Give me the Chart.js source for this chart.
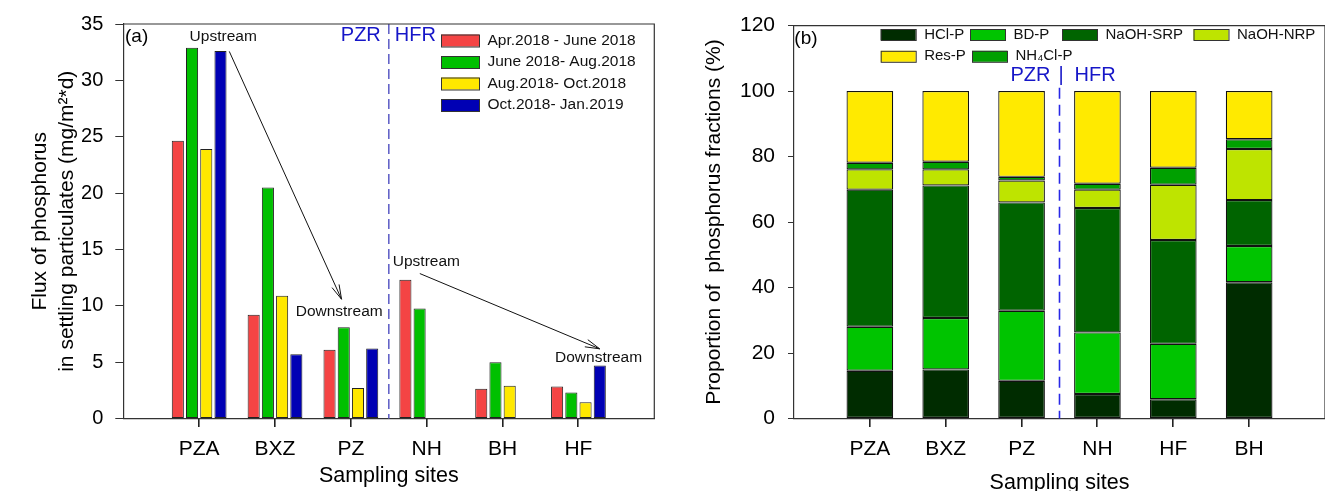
<!DOCTYPE html>
<html>
<head>
<meta charset="utf-8">
<script src="https://cdn.jsdelivr.net/npm/chart.js@4.4.1/dist/chart.umd.min.js"></script>
<style>
  body { margin: 0; background: #fff; }
  #boxA { position: absolute; left: 0; top: 0; width: 660px; height: 491px; }
  #boxB { position: absolute; left: 660px; top: 0; width: 665px; height: 491px; }
</style>
</head>
<body>
<div id="boxA"><canvas id="fluxChart" width="660" height="491"></canvas></div>
<div id="boxB"><canvas id="fracChart" width="665" height="491"></canvas></div>
<script>
// (a) flux of phosphorus in settling particulates, mg/m2*d
var sitesA = ['PZA', 'BXZ', 'PZ', 'NH', 'BH', 'HF'];
var periods = ['Apr.2018 - June 2018', 'June 2018- Aug.2018', 'Aug.2018- Oct.2018', 'Oct.2018- Jan.2019'];
var aprJun = [24.65, 9.2, 6.1, 12.3, 2.65, 2.85];
var junAug = [32.9, 20.5, 8.1, 9.75, 5.0, 2.3];
var augOct = [23.9, 10.9, 2.7, null, 2.9, 1.45];
var octJan = [32.6, 5.7, 6.2, null, null, 4.7];
var fluxTicks = [0, 5, 10, 15, 20, 25, 30, 35];

// (b) proportion of phosphorus fractions, %
var sitesB = ['PZA', 'BXZ', 'PZ', 'NH', 'HF', 'BH'];
var fractions = ['HCl-P', 'BD-P', 'NaOH-SRP', 'NaOH-NRP', 'NH\u2084Cl-P', 'Res-P'];
var hclP = [14.6, 15.0, 11.5, 7.5, 5.9, 41.6];
var bdP = [13.4, 15.7, 21.4, 18.8, 16.9, 11.1];
var naohSRP = [41.9, 40.5, 33.1, 38.0, 31.7, 14.0];
var naohNRP = [6.2, 4.9, 6.7, 5.6, 16.9, 15.6];
var nh4clP = [2.0, 2.3, 1.1, 1.8, 5.2, 3.0];
var resP = [21.9, 21.6, 26.2, 28.3, 23.4, 14.7];
var fracTicks = [0, 20, 40, 60, 80, 100, 120];

Chart.defaults.font.family = '"Liberation Sans", Arial, sans-serif';
Chart.defaults.color = '#000';

// empty slot at both ends so the sites sit one step in from the frame
function pad(arr) { return [null].concat(arr, [null]); }
var FONT = '"Liberation Sans", Arial, sans-serif';

function siteAxis(titlePad) {
  return {
    offset: false,
    // keep only the real sites as ticks, drop the two empty end slots
    afterBuildTicks: function (s) {
      var last = s.getLabels().length - 1;
      s.ticks = s.ticks.filter(function (t) { return t.value > 0 && t.value < last; });
    },
    grid: { display: false, tickLength: 7 },
    border: { color: '#333', width: 1.2 },
    ticks: { autoSkip: false, maxRotation: 0, padding: 11, font: { size: 21 } },
    title: { display: true, text: 'Sampling sites', font: { size: 21.5 }, padding: { top: 0, bottom: titlePad } },
    afterFit: function (s) { s.height = 72.5; }
  };
}

function valueAxis(ticks, width, tickLen, tickPad, title, titlePad, size) {
  return {
    min: ticks[0], max: ticks[ticks.length - 1],
    afterBuildTicks: function (s) { s.ticks = ticks.map(function (v) { return { value: v }; }); },
    grid: { drawOnChartArea: false, tickLength: tickLen, color: '#333' },
    border: { color: '#333', width: 1.2 },
    ticks: { padding: tickPad, font: { size: size } },
    title: { display: true, text: title, font: { size: 21, lineHeight: 1.28 }, padding: { top: titlePad, bottom: 0 } },
    afterFit: function (s) { s.width = width; }
  };
}

// top and right edges of the frame, site tick marks and the panel tag
function framePlugin(tag, tagX, tagY) {
  return {
    id: 'frame',
    afterDraw: function (chart) {
      var a = chart.chartArea, ctx = chart.ctx, sx = chart.scales.x;
      ctx.save();
      ctx.strokeStyle = '#333';
      ctx.lineWidth = 1.2;
      ctx.beginPath();
      ctx.moveTo(a.left, a.top);
      ctx.lineTo(a.right, a.top);
      ctx.lineTo(a.right, a.bottom);
      ctx.stroke();
      ctx.restore();
      ctx.save();
      ctx.fillStyle = '#222';
      for (var i = 0; i < sx.ticks.length; i++) {
        var px = Math.round(sx.getPixelForTick(i));
        ctx.fillRect(px - 1, Math.round(a.bottom), 1.6, 8);
      }
      ctx.fillStyle = '#000';
      ctx.font = '19px ' + FONT;
      ctx.textBaseline = 'middle';
      ctx.fillText(tag, tagX, tagY);
      ctx.restore();
    }
  };
}

// PZR | HFR river divider
function dividerPlugin(cfg) {
  return {
    id: 'divider',
    afterDatasetsDraw: function (chart) {
      var ctx = chart.ctx, a = chart.chartArea;
      var x = chart.scales.x.getPixelForValue(cfg.at);
      var top = cfg.top == null ? a.top : chart.scales.y.getPixelForValue(cfg.top);
      ctx.save();
      ctx.strokeStyle = cfg.color;
      ctx.lineWidth = 1.6;
      ctx.setLineDash(cfg.dash);
      ctx.beginPath();
      ctx.moveTo(x, top);
      ctx.lineTo(x, a.bottom);
      ctx.stroke();
      ctx.setLineDash([]);
      ctx.fillStyle = '#1616c8';
      ctx.font = '20px ' + FONT;
      ctx.textBaseline = 'middle';
      cfg.labels.forEach(function (l) {
        ctx.textAlign = l.align;
        ctx.fillText(l.text, x + l.dx, cfg.y);
      });
      ctx.restore();
    }
  };
}

// upstream -> downstream arrows, placed in data units
function arrowPlugin(arrows, notes) {
  return {
    id: 'arrows',
    afterDatasetsDraw: function (chart) {
      var ctx = chart.ctx, sx = chart.scales.x, sy = chart.scales.y;
      ctx.save();
      ctx.strokeStyle = '#111';
      ctx.lineWidth = 1;
      arrows.forEach(function (r) {
        var x1 = sx.getPixelForValue(r[0]), y1 = sy.getPixelForValue(r[1]);
        var x2 = sx.getPixelForValue(r[2]), y2 = sy.getPixelForValue(r[3]);
        var ang = Math.atan2(y2 - y1, x2 - x1), len = 15, spread = 0.26;
        ctx.beginPath();
        ctx.moveTo(x1, y1);
        ctx.lineTo(x2, y2);
        ctx.moveTo(x2 - len * Math.cos(ang - spread), y2 - len * Math.sin(ang - spread));
        ctx.lineTo(x2, y2);
        ctx.lineTo(x2 - len * Math.cos(ang + spread), y2 - len * Math.sin(ang + spread));
        ctx.stroke();
      });
      ctx.fillStyle = '#111';
      ctx.font = '15.5px ' + FONT;
      ctx.textAlign = 'center';
      ctx.textBaseline = 'middle';
      notes.forEach(function (n) {
        ctx.fillText(n[0], sx.getPixelForValue(n[1]), sy.getPixelForValue(n[2]));
      });
      ctx.restore();
    }
  };
}

// legend drawn inside the plot, boxes at fixed spots
function boxLegend(cfg) {
  return {
    id: 'boxLegend',
    afterDraw: function (chart) {
      var ctx = chart.ctx;
      ctx.save();
      ctx.font = cfg.font + 'px ' + FONT;
      ctx.textBaseline = 'middle';
      ctx.lineWidth = 1;
      ctx.strokeStyle = '#333';
      cfg.order.forEach(function (di, k) {
        var ds = chart.data.datasets[di];
        var bx = cfg.x[k], cy = cfg.y[k];
        ctx.fillStyle = ds.backgroundColor;
        ctx.fillRect(bx, cy - cfg.h / 2, cfg.w, cfg.h);
        ctx.strokeRect(bx + 0.5, cy - cfg.h / 2 + 0.5, cfg.w, cfg.h);
        ctx.fillStyle = '#111';
        ctx.fillText(ds.label, bx + cfg.w + cfg.gap, cy);
      });
      ctx.restore();
    }
  };
}

var fluxChart = new Chart(document.getElementById('fluxChart'), {
  type: 'bar',
  data: {
    labels: [''].concat(sitesA, ['']),
    datasets: [
      { label: periods[0], data: pad(aprJun), backgroundColor: '#F44444' },
      { label: periods[1], data: pad(junAug), backgroundColor: '#00C000' },
      { label: periods[2], data: pad(augOct), backgroundColor: '#FFE800' },
      { label: periods[3], data: pad(octJan), backgroundColor: '#0000B4' }
    ]
  },
  options: {
    responsive: false,
    animation: false,
    layout: { padding: { top: 20.7, right: 5.7, left: 0, bottom: 0 } },
    datasets: { bar: { borderColor: '#222', borderWidth: 1, borderSkipped: false, categoryPercentage: 0.75, barPercentage: 0.85 } },
    plugins: { legend: { display: false }, tooltip: { enabled: false } },
    scales: {
      x: siteAxis(2),
      y: valueAxis(fluxTicks, 123.3, 8, 12,
        ['Flux of phosphorus', 'in settling particulates (mg/m\u00b2*d)'], 26.5, 20)
    }
  },
  plugins: [
    framePlugin('(a)', 125, 37),
    dividerPlugin({ at: 3.5, color: '#6464c8', dash: [10, 5], y: 35, labels: [
      { text: 'PZR', dx: -8, align: 'right' },
      { text: 'HFR', dx: 6, align: 'left' }
    ] }),
    arrowPlugin(
      [[1.397, 32.57, 2.877, 10.58], [3.909, 12.86, 6.28, 6.18]],
      [['Upstream', 1.317, 33.83], ['Downstream', 2.846, 9.46], ['Upstream', 3.995, 13.95], ['Downstream', 6.265, 5.37]]
    ),
    boxLegend({ order: [0, 1, 2, 3], x: [441, 441, 441, 441], y: [40.5, 62, 83.5, 105], w: 38, h: 12, gap: 8.5, font: 15.5 })
  ]
});

var fracChart = new Chart(document.getElementById('fracChart'), {
  type: 'bar',
  data: {
    labels: [''].concat(sitesB, ['']),
    datasets: [
      { label: fractions[0], data: pad(hclP), backgroundColor: '#002C00' },
      { label: fractions[1], data: pad(bdP), backgroundColor: '#00C400' },
      { label: fractions[2], data: pad(naohSRP), backgroundColor: '#006400' },
      { label: fractions[3], data: pad(naohNRP), backgroundColor: '#BEE400' },
      { label: fractions[4], data: pad(nh4clP), backgroundColor: '#00A000' },
      { label: fractions[5], data: pad(resP), backgroundColor: '#FFEA00' }
    ]
  },
  options: {
    responsive: false,
    animation: false,
    layout: { padding: { top: 20, right: 0, left: 0, bottom: 0 } },
    datasets: { bar: { borderColor: '#111', borderWidth: 1.2, borderSkipped: false, categoryPercentage: 0.615, barPercentage: 1 } },
    plugins: { legend: { display: false }, tooltip: { enabled: false } },
    scales: {
      x: Object.assign(siteAxis(-4.5), { stacked: true }),
      y: Object.assign(valueAxis(fracTicks, 134, 6, 13,
        'Proportion of  phosphorus fractions (%)', 41, 21), { stacked: true })
    }
  },
  plugins: [
    framePlugin('(b)', 134.3, 39),
    dividerPlugin({ at: 3.5, top: 101, color: '#2828e6', dash: [11, 6], y: 75, labels: [
      { text: 'PZR', dx: -9, align: 'right' },
      { text: '|', dx: 1.5, align: 'center' },
      { text: 'HFR', dx: 15, align: 'left' }
    ] }),
    boxLegend({ order: [0, 1, 2, 3, 5, 4], x: [220.7, 310, 402, 533.5, 220.7, 312], y: [34.5, 34.5, 34.5, 34.5, 56.3, 56.3], w: 35, h: 11, gap: 8.5, font: 15 })
  ]
});
</script>
</body>
</html>
